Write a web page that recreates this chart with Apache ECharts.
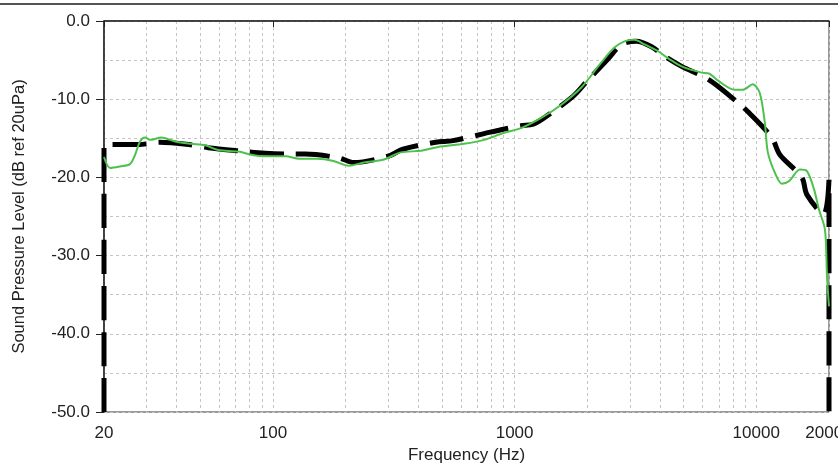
<!DOCTYPE html>
<html>
<head>
<meta charset="utf-8">
<script src="https://cdn.jsdelivr.net/npm/echarts@6/dist/echarts.min.js"></script>
<style>
html,body{margin:0;padding:0;background:#fff;}
#chart{width:838px;height:466px;}
</style>
</head>
<body>
<div id="chart"></div>
<script>
// Frequency (Hz) / level (dB) pairs
const blackFreq = [20, 20, 28, 34, 45, 54, 72, 93, 116, 136, 187, 216, 299, 345, 472, 556, 748, 879, 1064, 1194, 1352, 1750, 1980, 2445, 2767, 3194, 3690, 4174, 4910, 6355, 8300, 9311, 11596, 12528, 15440, 16200, 19000, 20000, 20000];
const blackLevel = [-50, -15.8, -15.8, -15.5, -15.8, -16.2, -16.6, -16.9, -17.0, -17.0, -17.5, -18.1, -17.3, -16.4, -15.5, -15.3, -14.4, -13.9, -13.4, -13.2, -12.2, -9.6, -7.8, -4.8, -3.0, -2.6, -3.3, -4.5, -5.8, -7.5, -10.3, -11.7, -14.9, -17.1, -20.0, -22.2, -24.7, -20.3, -50];

const greenFreq = [20, 21.2, 23.3, 25.6, 26.9, 28.2, 29.6, 31, 34.5, 39.4, 45.9, 52.5, 59.4, 72, 81.5, 93, 113, 128, 153, 178, 206, 238, 288, 338, 410, 482, 618, 748, 905, 1064, 1288, 1560, 1888, 2286, 2588, 2848, 3133, 3448, 3940, 4336, 4910, 5944, 6355, 7000, 8148, 8794, 9672, 10340, 10852, 11168, 11940, 12766, 13646, 15170, 16208, 17330, 18176, 19250, 19620, 20000];
const greenLevel = [-17.4, -18.8, -18.6, -18.3, -17.1, -15.4, -14.9, -15.2, -14.9, -15.4, -15.7, -15.9, -16.5, -16.7, -17.1, -17.3, -17.3, -17.6, -17.6, -17.9, -18.5, -18.1, -17.7, -16.8, -16.6, -16.1, -15.7, -15.2, -14.3, -13.7, -12.4, -10.7, -8.5, -5.3, -3.4, -2.6, -2.4, -3.0, -3.9, -4.8, -5.8, -6.6, -6.7, -7.7, -8.8, -8.8, -8.1, -9.2, -13.0, -16.8, -19.4, -20.8, -20.5, -19.0, -19.2, -21.5, -24.1, -26.7, -32.6, -36.5];

const xTickLabels = [20, 100, 1000, 10000, 20000];
const xGridValues = [20, 30, 40, 50, 60, 70, 80, 90, 100, 200, 300, 400, 500, 600, 700, 800, 900, 1000, 2000, 3000, 4000, 5000, 6000, 7000, 8000, 9000, 10000, 20000];

const xAxisTitle = 'Frequency (Hz)';
const yAxisTitle = 'Sound Pressure Level (dB ref 20uPa)';

const pairs = (xs, ys) => xs.map((x, i) => [x, ys[i]]);

const chart = echarts.init(document.getElementById('chart'), null, {renderer: 'canvas'});
const FONT = '"Liberation Sans", Arial, sans-serif';
const gridDash = {color: '#c4c4c4', width: 1, type: [3, 3]};

chart.setOption({
  animation: false,
  backgroundColor: '#fff',
  graphic: [{
    type: 'rect',
    shape: {x: 0, y: 3, width: 838, height: 2},
    style: {fill: '#555'},
    silent: true
  }],
  grid: {
    left: 104, right: 9, top: 21, bottom: 54,
    outerBoundsMode: 'none', containLabel: false,
    show: true, borderColor: '#333', borderWidth: 1, backgroundColor: 'transparent'
  },
  xAxis: [{
    type: 'log', logBase: 10, min: 20, max: 20000,
    name: xAxisTitle, nameLocation: 'middle', nameGap: 33,
    nameTextStyle: {fontFamily: FONT, fontSize: 17, color: '#222'},
    axisLine: {show: true, lineStyle: {color: '#222', width: 1.5}},
    axisTick: {show: true, length: 6, customValues: xTickLabels, lineStyle: {color: '#222'}},
    axisLabel: {show: true, customValues: xTickLabels, margin: 13, fontFamily: FONT, fontSize: 17, color: '#222',
      hideOverlap: false, formatter: v => String(Math.round(v))},
    splitLine: {show: false}
  }, {
    type: 'log', logBase: 10, min: 20, max: 20000, position: 'bottom',
    axisLine: {show: false},
    axisTick: {show: false, customValues: xGridValues},
    axisLabel: {show: false},
    splitLine: {show: true, lineStyle: gridDash}
  }],
  yAxis: {
    type: 'value', min: -50, max: 0, interval: 10,
    name: yAxisTitle, nameLocation: 'middle', nameGap: 76, nameRotate: 90,
    nameTextStyle: {fontFamily: FONT, fontSize: 16.5, color: '#222'},
    axisLine: {show: true, lineStyle: {color: '#222', width: 1.5}},
    axisTick: {show: true, length: 8, lineStyle: {color: '#222'}},
    axisLabel: {fontFamily: FONT, fontSize: 17, color: '#222', margin: 14, formatter: v => v.toFixed(1)},
    splitLine: {show: true, lineStyle: gridDash},
    minorTick: {show: false, splitNumber: 2},
    minorSplitLine: {show: true, lineStyle: gridDash}
  },
  series: [{
    type: 'line', name: 'target', data: pairs(blackFreq, blackLevel),
    showSymbol: false, symbol: 'none', smooth: 0.3, z: 3,
    lineStyle: {color: '#000', width: 5, type: [34, 12], cap: 'butt'}
  }, {
    type: 'line', name: 'measured', data: pairs(greenFreq, greenLevel),
    showSymbol: false, symbol: 'none', smooth: 0.3, z: 4,
    lineStyle: {color: '#4cc24c', width: 2}
  }]
});
</script>
</body>
</html>
